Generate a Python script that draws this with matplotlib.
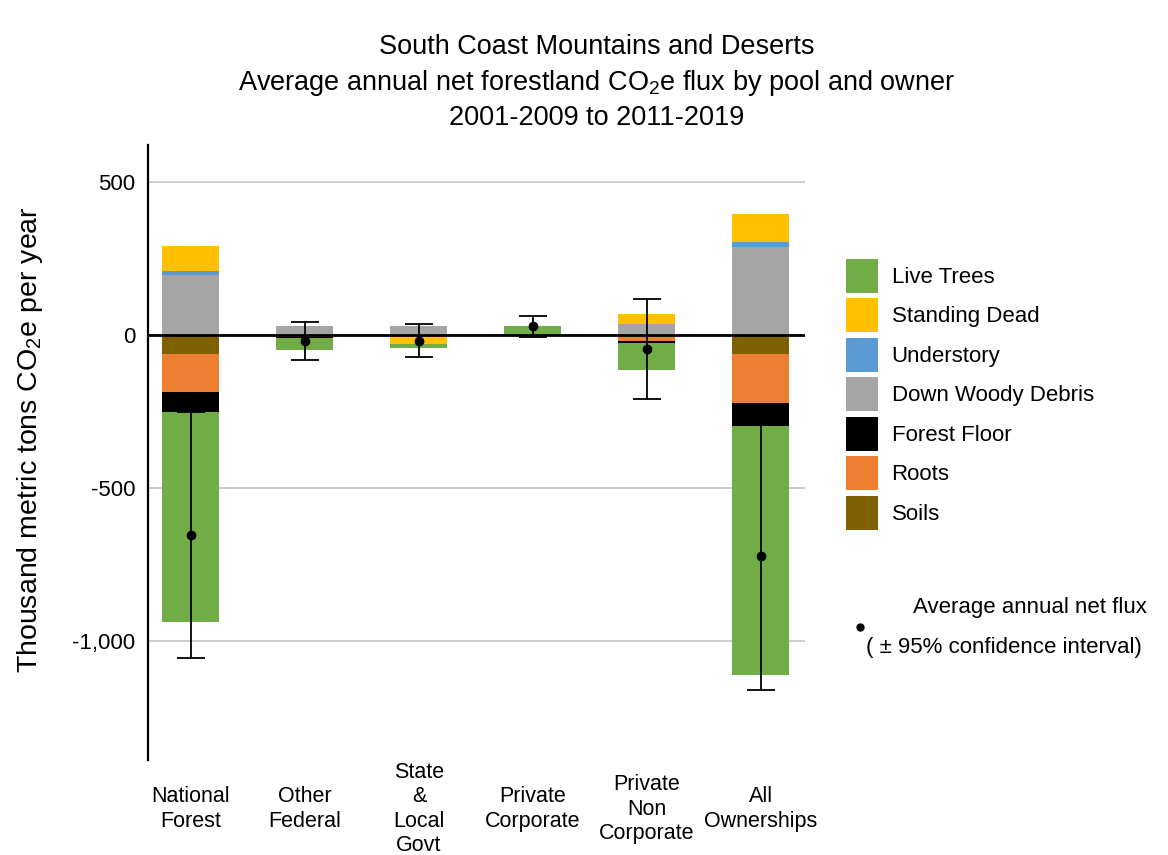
import numpy as np
import matplotlib
matplotlib.use("Agg")
import matplotlib.pyplot as plt
from matplotlib.patches import Patch
from matplotlib.transforms import blended_transform_factory

plt.rcParams['font.family'] = ['Liberation Sans', 'DejaVu Sans']
plt.rcParams['mathtext.fontset'] = 'custom'
plt.rcParams['mathtext.rm'] = 'Liberation Sans'

# owners and flux by pool (thousand metric tons CO2e per year)
owners = ["National\nForest", "Other\nFederal", "State\n&\nLocal\nGovt",
          "Private\nCorporate", "Private\nNon\nCorporate", "All\nOwnerships"]
live_trees = [-687, -40, -14, 24, -88, -814]
standing_dead = [82, 3, -25, 0, 34, 93]
understory = [13, 0, 0, 0, 0, 15]
down_woody = [196, 27, 29, 0, 35, 288]
forest_floor = [-65, -3, 0, 0, -7, -77]
roots = [-126, -7, -6, 3, -20, -158]
soils = [-62, 0, 0, 0, 0, -64]
net_flux = [-656, -20, -19, 27, -47, -722]
ci95 = [402, 62, 55, 33, 163, 438]

pools = ["Live Trees", "Standing Dead", "Understory", "Down Woody Debris",
         "Forest Floor", "Roots", "Soils"]
pool_vals = [live_trees, standing_dead, understory, down_woody,
             forest_floor, roots, soils]
colors = ["#70AD47", "#FFC000", "#5B9BD5", "#A5A5A5", "#000000", "#ED7D31", "#7F6000"]

yticks = [500, 0, -500, -1000]
ytick_labels = ["500", "0", "-500", "-1,000"]

fig = plt.figure(figsize=(11.68, 8.55), dpi=100)
ax = fig.add_axes([148/1168, 95/855, (805-148)/1168, (760-145)/855])

x = np.arange(len(owners))
pos = np.zeros(len(owners))
neg = np.zeros(len(owners))
# stack outward from zero: soils, roots, forest floor, dwd, understory, standing dead, live trees
for i in [6, 5, 4, 3, 2, 1, 0]:
    v = np.array(pool_vals[i], dtype=float)
    base = np.where(v >= 0, pos, neg)
    ax.bar(x, v, width=0.5, bottom=base, color=colors[i], zorder=2)
    pos = pos + np.where(v > 0, v, 0)
    neg = neg + np.where(v < 0, v, 0)

ax.axhline(0, color='black', lw=2, zorder=3)
ax.errorbar(x, net_flux, yerr=ci95, fmt='o', color='black', ms=6,
            capsize=10, elinewidth=1.3, capthick=1.3, zorder=4)

ax.set_xlim(-0.377, 5.386)
ax.set_ylim(-1390, 620)
ax.set_yticks(yticks)
ax.set_yticklabels(ytick_labels, fontsize=16)
ax.tick_params(axis='y', length=0, pad=9)
ax.set_xticks([])
ax.yaxis.grid(True, color='#C8C8C8', lw=1.3)
ax.set_axisbelow(True)
for s in ['top', 'right', 'bottom']:
    ax.spines[s].set_visible(False)
ax.spines['left'].set_linewidth(1.6)

trans = blended_transform_factory(ax.transData, fig.transFigure)
for xi, lab in zip(x, owners):
    ax.text(xi, (855-809)/855, lab, transform=trans, ha='center', va='center',
            fontsize=15.5, linespacing=1.2, clip_on=False)

fig.text(30/1168, (855-440)/855, r"Thousand metric tons CO$_\mathregular{2}$e per year",
         rotation=90, ha='center', va='center', fontsize=20.5)

fig.text(597/1168, (855-47)/855, "South Coast Mountains and Deserts",
         ha='center', va='center', fontsize=19.5)
fig.text(597/1168, (855-83)/855,
         r"Average annual net forestland CO$_\mathregular{2}$e flux by pool and owner",
         ha='center', va='center', fontsize=19.5)
fig.text(597/1168, (855-118)/855, "2001-2009 to 2011-2019",
         ha='center', va='center', fontsize=19.5)

handles = [Patch(facecolor=c) for c in colors]
fig.legend(handles, pools, loc='upper left', bbox_to_anchor=(846/1168, (855-259)/855),
           frameon=False, fontsize=16, handlelength=1.45, handleheight=1.97,
           labelspacing=0.25, handletextpad=0.6, borderpad=0, borderaxespad=0)

ax.plot([860/1168], [(855-627)/855], 'o', color='black', ms=5,
        transform=fig.transFigure, clip_on=False)
fig.text(913/1168, (855-607)/855, "Average annual net flux",
         ha='left', va='center', fontsize=16)
fig.text(866/1168, (855-647)/855, "( ± 95% confidence interval)",
         ha='left', va='center', fontsize=16)

fig.savefig("out.png", dpi=100)
